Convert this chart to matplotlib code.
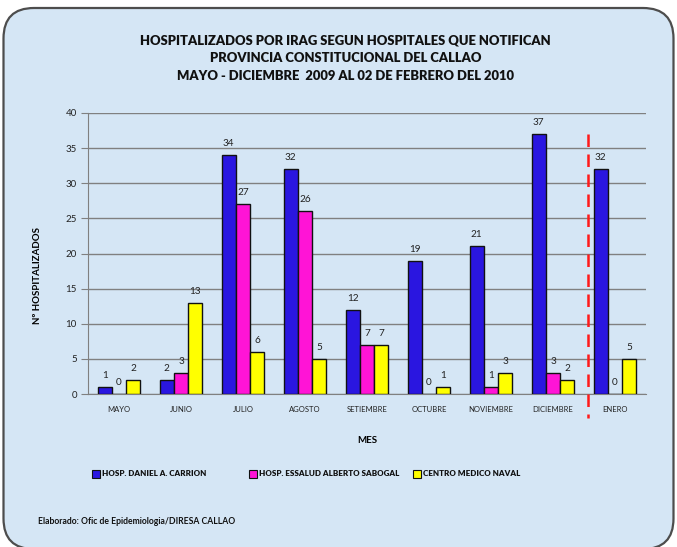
import matplotlib
matplotlib.use("Agg")
import matplotlib.pyplot as plt
from matplotlib.patches import FancyBboxPatch, Rectangle
import matplotlib.transforms as mtransforms
import numpy as np

plt.rcParams['font.family'] = ['Lato', 'DejaVu Sans']

meses = ["MAYO", "JUNIO", "JULIO", "AGOSTO", "SETIEMBRE", "OCTUBRE",
         "NOVIEMBRE", "DICIEMBRE", "ENERO"]
carrion = [1, 2, 34, 32, 12, 19, 21, 37, 32]
sabogal = [0, 3, 27, 26, 7, 0, 1, 3, 0]
naval = [2, 13, 6, 5, 7, 1, 3, 2, 5]

series = [
    ("HOSP. DANIEL A. CARRION", carrion, "#2a16e0"),
    ("HOSP. ESSALUD ALBERTO SABOGAL", sabogal, "#ff14d6"),
    ("CENTRO MEDICO NAVAL", naval, "#ffff00"),
]

W, H = 677, 547
fig = plt.figure(figsize=(W / 100, H / 100), dpi=100, facecolor="white")

# rounded panel behind everything (bottom edge runs off the canvas)
panel = FancyBboxPatch((3.5 / W, -2 / H), (670 / W), (541 / H),
                       boxstyle="round,pad=0,rounding_size=0.045",
                       transform=fig.transFigure, facecolor="#d5e6f5",
                       edgecolor="#4d4d4d", linewidth=1.6, zorder=-5,
                       mutation_aspect=W / H)
fig.patches.append(panel)

ax = fig.add_axes([88 / W, 1 - 394 / H, (646 - 88) / W, (394 - 113) / H])
ax.set_facecolor("none")
ax.set_zorder(2)

x = np.arange(len(meses))
bw = 0.23
for i, (name, vals, col) in enumerate(series):
    off = (i - 1) * bw
    ax.bar(x + off, vals, width=bw, color=col, edgecolor="#111111",
           linewidth=1.0, zorder=3, label=name)
    for xi, v in zip(x, vals):
        ax.text(xi + off, v + 1.0, str(v), ha="center", va="bottom",
                fontsize=7.2, color="#222222", zorder=4)

ax.set_xlim(-0.5, len(meses) - 0.5)
ax.set_ylim(0, 40)
ax.set_yticks(range(0, 41, 5))
ax.yaxis.grid(True, color="#808080", linewidth=1.0, zorder=1)
ax.set_axisbelow(True)
for s in ["top", "right"]:
    ax.spines[s].set_visible(False)
ax.spines["left"].set_color("#808080")
ax.spines["bottom"].set_color("#808080")
ax.tick_params(axis="y", labelsize=7, colors="#808080", labelcolor="#222222",
               length=5, pad=3)
ax.tick_params(axis="x", length=0, pad=9)
ax.set_xticks(x)
ax.set_xticklabels(meses, fontsize=5.5, color="#222222")

ax.set_xlabel("MES", fontsize=7, fontweight="bold", labelpad=16)
ax.set_ylabel("Nº HOSPITALIZADOS", fontsize=7, fontweight="bold")
ax.yaxis.set_label_coords(-0.083, 0.42)

# separation between 2009 and 2010
trans = mtransforms.blended_transform_factory(ax.transData, ax.transAxes)
ax.plot([7.56, 7.56], [0.925, -0.085], transform=trans, color="#ff1a1a",
        linestyle=(0, (5, 3)), linewidth=1.8, clip_on=False, zorder=5)

fig.text(0.51, 1 - 58.5 / H,
         "HOSPITALIZADOS POR IRAG SEGUN HOSPITALES QUE NOTIFICAN\n"
         "PROVINCIA CONSTITUCIONAL DEL CALLAO\n"
         "MAYO - DICIEMBRE  2009 AL 02 DE FEBRERO DEL 2010",
         ha="center", va="center", fontsize=9.4, fontweight="heavy",
         linespacing=1.55, color="#111111")

# legend
leg_x = [92, 249, 413]
for (name, vals, col), lx in zip(series, leg_x):
    fig.patches.append(Rectangle((lx / W, 1 - 478 / H), 8 / W, 8 / H,
                                 transform=fig.transFigure, facecolor=col,
                                 edgecolor="#111111", linewidth=0.8))
    fig.text((lx + 10) / W, 1 - 474 / H, name, fontsize=5.8, fontweight="heavy",
             ha="left", va="center", color="#111111")

fig.text(38 / W, 1 - 522 / H, "Elaborado: Ofic de Epidemiologia/DIRESA CALLAO",
         fontsize=6.2, fontweight="bold", ha="left", va="center", color="#111111")

fig.savefig("out.png", dpi=100)
